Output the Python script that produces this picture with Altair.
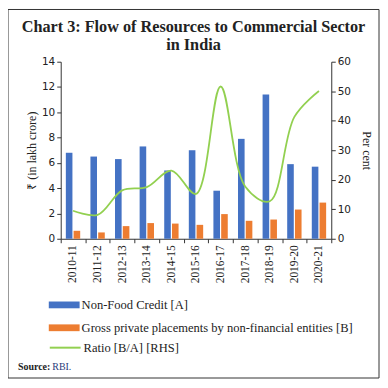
import altair as alt
import pandas as pd

years = ["2010-11", "2011-12", "2012-13", "2013-14", "2014-15", "2015-16",
         "2016-17", "2017-18", "2018-19", "2019-20", "2020-21"]
non_food_credit = [6.8, 6.5, 6.3, 7.3, 5.4, 7.0, 3.8, 7.9, 11.4, 5.9, 5.7]
private_placements = [0.63, 0.5, 1.0, 1.24, 1.2, 1.1, 1.95, 1.42, 1.52, 2.31, 2.86]
ratio = [9.5, 8.1, 16.4, 17.5, 23.1, 15.2, 51.6, 17.7, 12.7, 41.3, 50.1]

title_lines = ["Chart 3: Flow of Resources to Commercial Sector", "in India"]

name_a = "Non-Food Credit [A]"
name_b = "Gross private placements by non-financial entities [B]"
name_r = "Ratio [B/A] [RHS]"

bars = pd.DataFrame(
    [{"year": y, "series": name_a, "value": v} for y, v in zip(years, non_food_credit)]
    + [{"year": y, "series": name_b, "value": v} for y, v in zip(years, private_placements)]
)
line_df = pd.DataFrame({"year": years, "ratio": ratio, "series": [name_r] * len(years)})

FONT = "Liberation Serif"
W, H = 272, 178

x_enc = alt.X("year:N", sort=years, title=None,
              scale=alt.Scale(paddingInner=0, paddingOuter=0),
              axis=alt.Axis(labelAngle=-90, tickBand="extent", labelFontSize=11.5,
                            labelFont=FONT, labelColor="#222", tickSize=4,
                            labelPadding=2, domainColor="#333", tickColor="#333"))

bar_layer = alt.Chart(bars).mark_bar().encode(
    x=x_enc,
    xOffset=alt.XOffset("series:N", sort=[name_a, name_b],
                        scale=alt.Scale(paddingInner=0.15, paddingOuter=0.66)),
    y=alt.Y("value:Q", scale=alt.Scale(domain=[0, 14]),
            axis=alt.Axis(values=list(range(0, 15, 2)), grid=False, title="₹ (in lakh crore)",
                          titleFont=FONT, titleFontSize=12, titleFontWeight="normal",
                          titleColor="#222", titlePadding=3,
                          labelFont="DejaVu Sans", labelFontSize=10.5, labelColor="#222",
                          tickSize=4, domainColor="#333", tickColor="#333")),
    color=alt.Color("series:N", sort=[name_a, name_b],
                    scale=alt.Scale(domain=[name_a, name_b], range=["#4472C4", "#ED7D31"]),
                    legend=alt.Legend(title=None, orient="none", legendX=-12, legendY=229,
                                      symbolType="M-1,-0.22H1V0.22H-1Z", symbolSize=961,
                                      symbolStrokeWidth=0, labelFont=FONT, labelFontSize=12.6,
                                      labelColor="#222", labelOffset=2, rowPadding=0,
                                      labelLimit=400)),
)

line_layer = alt.Chart(line_df).mark_line(strokeWidth=1.8, interpolate="catmull-rom").encode(
    x=alt.X("year:N", sort=years),
    y=alt.Y("ratio:Q", scale=alt.Scale(domain=[0, 60]),
            axis=alt.Axis(orient="right", values=list(range(0, 61, 10)), grid=False,
                          title="Per cent", titleFont=FONT, titleFontSize=12,
                          titleFontWeight="normal", titleColor="#222", titlePadding=9,
                          labelFont="DejaVu Sans", labelFontSize=10.5, labelColor="#222",
                          tickSize=4, domainColor="#333", tickColor="#333")),
    stroke=alt.Stroke("series:N",
                      scale=alt.Scale(domain=[name_r], range=["#92D050"]),
                      legend=alt.Legend(title=None, orient="none", legendX=-12, legendY=271,
                                        symbolType="stroke", symbolSize=961,
                                        symbolStrokeWidth=2, labelFont=FONT, labelFontSize=12.6,
                                        labelColor="#222", labelOffset=2)),
)

frame = alt.Chart(pd.DataFrame({"k": [0]})).mark_rect(
    fill=None, stroke="#333", strokeWidth=1
).encode(x=alt.value(-53), x2=alt.value(320), y=alt.value(-52.5), y2=alt.value(318))

title_df = pd.DataFrame({"l1": [title_lines[0]], "l2": [title_lines[1]]})
title1 = alt.Chart(title_df).mark_text(
    align="center", baseline="alphabetic", font=FONT, fontSize=16.3, fontWeight="bold",
    color="#222"
).encode(text="l1:N", x=alt.value(133.5), y=alt.value(-30))
title2 = alt.Chart(title_df).mark_text(
    align="center", baseline="alphabetic", font=FONT, fontSize=16.3, fontWeight="bold",
    color="#222"
).encode(text="l2:N", x=alt.value(133.5), y=alt.value(-11.5))

src_df = pd.DataFrame({"a": ["Source:"], "b": ["RBI."]})
src_bold = alt.Chart(src_df).mark_text(
    align="left", baseline="middle", font=FONT, fontSize=10, fontWeight="bold", color="#222"
).encode(text="a:N", x=alt.value(-43), y=alt.value(307))
src_norm = alt.Chart(src_df).mark_text(
    align="left", baseline="middle", font=FONT, fontSize=10, color="#2a3a7a"
).encode(text="b:N", x=alt.value(-8.5), y=alt.value(307))

chart = alt.layer(bar_layer, line_layer, frame, title1, title2, src_bold, src_norm).resolve_scale(
    y="independent"
).properties(
    width=W, height=H,
    autosize=alt.AutoSizeParams(type="none"),
    padding={"left": 53, "top": 53, "right": 49, "bottom": 140},
).configure_view(stroke=None)

chart.save("out.html", embed_options={"renderer": "svg", "actions": False})
